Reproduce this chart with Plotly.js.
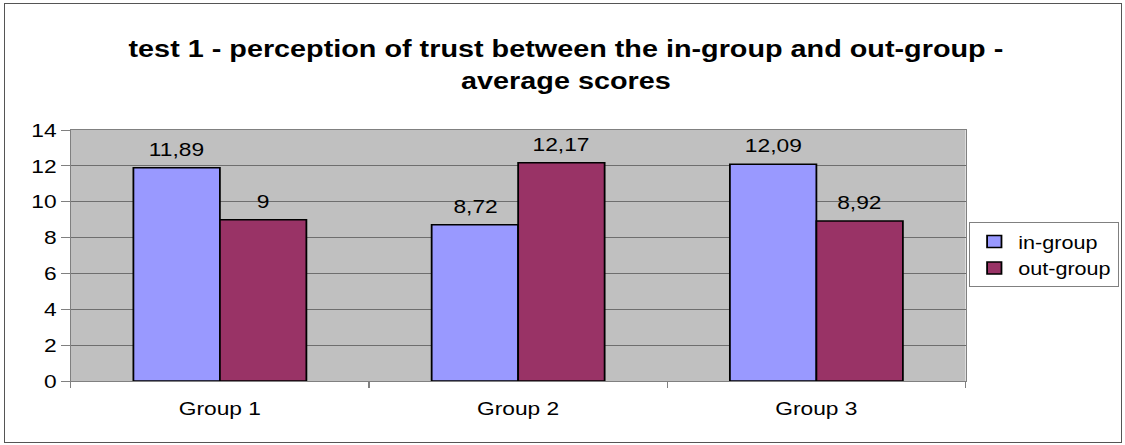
<!DOCTYPE html>
<html>
<head>
<meta charset="utf-8">
<script src="https://cdn.plot.ly/plotly-3.0.1.min.js"></script>
<style>
html,body{margin:0;padding:0;background:#fff;overflow:hidden;}
#page{position:relative;width:1125px;height:445px;overflow:hidden;}
#chart{position:absolute;left:0;top:0;width:938px;height:445px;transform:scaleX(1.1994);transform-origin:0 0;}
#frame{position:absolute;left:4px;top:3px;width:1116px;height:438px;border:1.5px solid #555;pointer-events:none;}
</style>
</head>
<body>
<div id="page"><div id="chart"></div><div id="frame"></div></div>
<script>
const categories = ['Group 1', 'Group 2', 'Group 3'];
const inGroup = [11.89, 8.72, 12.09];
const outGroup = [9, 12.17, 8.92];
const seriesNames = ['in-group', 'out-group'];
const yTicks = [0, 2, 4, 6, 8, 10, 12, 14];

const fontFam = 'Liberation Sans, Arial, sans-serif';
const colors = ['#9999FF', '#993366'];

const traces = [inGroup, outGroup].map((vals, i) => ({
  type: 'bar',
  name: seriesNames[i],
  x: categories,
  y: vals,
  marker: {color: colors[i], line: {color: '#000', width: 1.5}},
  hoverinfo: 'none'
}));

function fmt(v){ return String(v).replace('.', ','); }
const annotations = [];
[inGroup, outGroup].forEach((vals, i) => {
  vals.forEach((v, j) => {
    annotations.push({
      x: categories[j], y: v, xref: 'x', yref: 'y',
      text: fmt(v), showarrow: false,
      xshift: i === 0 ? -36 : 36, yshift: 6,
      yanchor: 'bottom',
      font: {family: fontFam, size: 19, color: '#000'}
    });
  });
});

const layout = {
  width: 938, height: 445,
  margin: {l: 59, r: 133, t: 130, b: 64, autoexpand: false},
  paper_bgcolor: 'rgba(0,0,0,0)',
  plot_bgcolor: '#C0C0C0',
  barmode: 'group',
  bargap: 0.42,
  bargroupgap: 0,
  title: {
    text: '<b>test 1 - perception of trust between the in-group and out-group -<br>average scores</b>',
    font: {family: fontFam, size: 24, color: '#000'},
    x: 0.503, xanchor: 'center', y: 0.871, yanchor: 'top'
  },
  xaxis: {
    type: 'category',
    tickson: 'boundaries',
    ticks: 'outside', ticklen: 6, tickcolor: '#808080',
    ticklabelstandoff: 10,
    showline: true, linecolor: '#808080', linewidth: 1, mirror: true,
    showgrid: false,
    tickfont: {family: fontFam, size: 19, color: '#000'},
    fixedrange: true
  },
  yaxis: {
    range: [0, 14],
    tickvals: yTicks,
    ticks: 'outside', ticklen: 7, tickcolor: '#808080',
    showline: true, linecolor: '#808080', linewidth: 1, mirror: true,
    showgrid: true, gridcolor: '#6e6e6e', gridwidth: 1,
    zeroline: false,
    tickfont: {family: fontFam, size: 19, color: '#000'},
    fixedrange: true
  },
  legend: {
    x: 1.004, xanchor: 'left', y: 0.632, yanchor: 'top',
    bgcolor: '#fff', bordercolor: '#808080', borderwidth: 1,
    font: {family: fontFam, size: 18, color: '#000'},
    itemwidth: 30
  },
  annotations: annotations,
  showlegend: true
};

Plotly.newPlot('chart', traces, layout, {displayModeBar: false, staticPlot: true});
</script>
</body>
</html>
